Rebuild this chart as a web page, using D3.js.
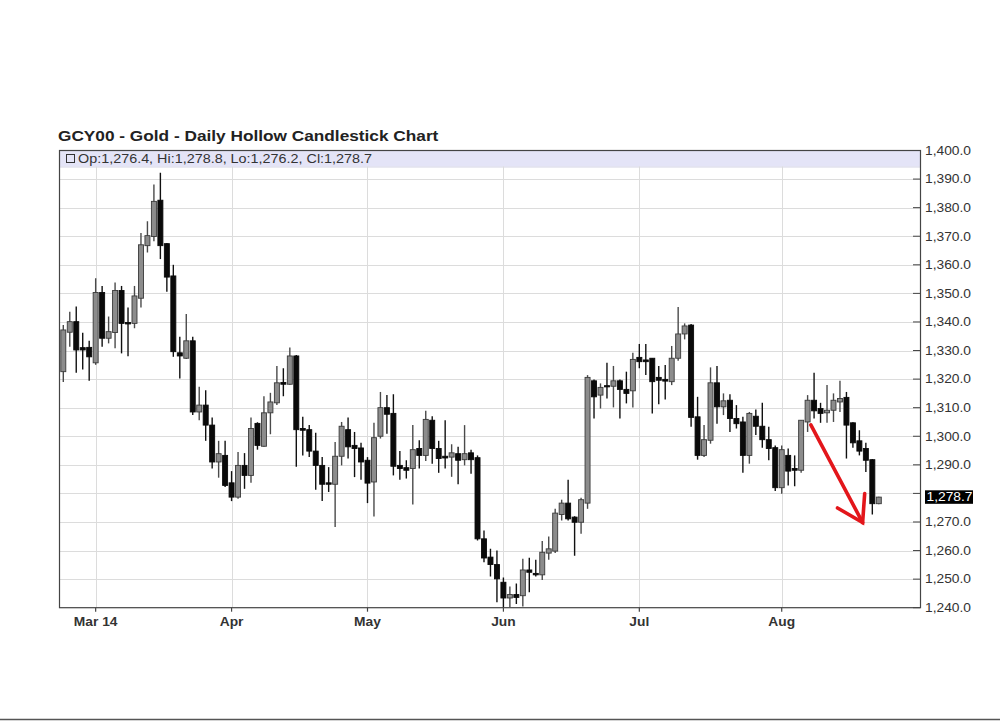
<!DOCTYPE html>
<html>
<head>
<meta charset="utf-8">
<script src="https://cdn.jsdelivr.net/npm/d3@7"></script>
<style>
  html, body { margin: 0; padding: 0; background: #fff; }
  svg { display: block; }
  text { font-family: "Liberation Sans", Arial, sans-serif; }
</style>
</head>
<body>
<script>
// ---------------- DATA ----------------
const title = "GCY00 - Gold - Daily Hollow Candlestick Chart";
const holidays = ["2014-04-18", "2014-05-26", "2014-07-04"];
const firstDay = "2014-02-24", lastDay = "2014-08-22";

const open = [1322.6,1336.4,1340.1,1331.0,1331.1,1325.7,1350.3,1334.3,1336.3,1351.0,
  1339.8,1339.5,1348.3,1366.7,1369.9,1382.6,1367.4,1356.1,1329.2,1327.3,
  1333.4,1308.5,1310.9,1303.9,1291.0,1293.3,1283.7,1278.7,1289.8,1286.3,
  1304.5,1296.5,1308.2,1311.7,1318.8,1318.2,1328.1,1302.7,1302.3,1294.8,
  1289.8,1283.7,1283.2,1293.0,1302.3,1296.8,1295.9,1291.6,1284.0,1300.0,
  1310.0,1308.0,1289.8,1289.0,1288.7,1295.7,1293.3,1305.6,1295.7,1293.0,
  1292.7,1293.9,1291.8,1294.2,1292.5,1264.1,1257.7,1255.1,1248.9,1243.4,
  1244.6,1244.2,1253.2,1252.0,1251.5,1259.1,1259.8,1272.6,1276.6,1271.7,
  1269.9,1276.6,1319.4,1314.4,1317.7,1317.5,1319.4,1316.4,1315.9,1327.6,
  1326.7,1327.3,1320.6,1319.9,1319.1,1327.3,1335.8,1338.9,1306.8,1293.3,
  1298.6,1318.7,1310.3,1312.6,1306.2,1305.0,1293.3,1307.0,1303.5,1298.8,
  1296.0,1282.0,1293.3,1288.7,1288.1,1305.0,1312.6,1309.7,1308.2,1309.1,
  1312.0,1313.6,1304.7,1298.4,1295.7,1291.8,1276.4];
const high = [1338.9,1343.6,1345.4,1336.2,1333.4,1355.3,1352.6,1341.9,1353.8,1352.6,
  1345.1,1352.6,1371.1,1375.2,1388.1,1392.2,1367.6,1360.0,1334.8,1342.8,
  1334.8,1317.3,1316.1,1306.6,1298.4,1298.4,1287.8,1294.5,1294.1,1306.6,
  1304.9,1314.0,1315.2,1324.6,1323.8,1331.1,1328.4,1306.8,1303.9,1301.2,
  1292.7,1289.2,1298.0,1305.0,1306.6,1301.5,1297.7,1292.7,1304.7,1315.5,
  1314.4,1314.7,1294.8,1291.6,1303.9,1298.6,1308.9,1307.0,1298.4,1305.6,
  1297.2,1296.3,1303.9,1295.3,1293.3,1267.0,1260.6,1260.0,1250.6,1247.4,
  1248.5,1257.1,1257.5,1256.8,1263.3,1264.9,1274.6,1277.8,1284.8,1272.0,
  1278.5,1321.4,1319.9,1318.5,1325.7,1324.6,1319.9,1322.6,1329.2,1332.3,
  1332.3,1327.3,1324.6,1324.9,1331.6,1345.2,1339.5,1339.3,1313.8,1303.9,
  1324.1,1324.6,1315.0,1314.7,1310.9,1306.8,1308.5,1309.4,1311.7,1303.3,
  1296.8,1296.8,1295.7,1293.3,1305.6,1314.4,1322.2,1311.7,1317.9,1315.0,
  1319.4,1315.5,1304.9,1302.1,1297.7,1292.0,1278.8];
const low = [1319.0,1331.3,1322.2,1323.4,1319.4,1325.0,1331.3,1332.5,1330.8,1329.0,
  1328.0,1337.8,1345.1,1364.3,1368.2,1362.0,1350.6,1327.8,1320.2,1327.0,
  1307.4,1305.6,1298.4,1288.7,1285.5,1282.2,1277.3,1278.1,1281.6,1283.7,
  1295.3,1296.3,1300.7,1310.9,1314.0,1318.0,1289.3,1293.3,1292.7,1281.3,
  1277.3,1280.5,1268.2,1289.8,1292.2,1285.7,1284.8,1276.6,1271.9,1299.2,
  1300.9,1286.3,1284.8,1285.2,1276.1,1288.7,1291.3,1290.4,1287.2,1288.7,
  1285.8,1283.2,1289.8,1286.9,1263.5,1255.9,1250.9,1241.9,1239.6,1240.1,
  1241.3,1240.4,1245.4,1250.9,1249.7,1256.8,1259.1,1270.5,1270.5,1258.2,
  1265.9,1274.6,1306.2,1309.7,1313.2,1310.1,1306.2,1311.5,1310.1,1323.8,
  1321.4,1308.0,1311.2,1312.9,1317.9,1326.4,1333.9,1303.3,1291.8,1292.7,
  1297.4,1304.4,1307.4,1301.5,1302.7,1287.2,1290.4,1300.4,1296.0,1291.6,
  1280.8,1279.9,1282.8,1282.5,1287.2,1301.5,1306.2,1304.7,1304.7,1305.0,
  1308.5,1292.2,1296.0,1293.3,1287.5,1272.6,1276.2];
const close = [1337.2,1340.1,1330.2,1330.2,1327.8,1350.3,1334.3,1336.6,1351.0,1339.5,
  1339.3,1349.1,1367.0,1370.2,1382.2,1366.7,1355.7,1329.6,1328.1,1333.4,
  1308.5,1310.9,1303.9,1291.0,1293.9,1282.8,1278.7,1289.8,1286.3,1302.7,
  1296.8,1308.2,1312.0,1318.7,1318.2,1328.1,1302.3,1302.1,1294.8,1289.8,
  1283.2,1283.2,1293.0,1303.5,1296.3,1295.7,1291.0,1283.6,1299.5,1310.0,
  1307.7,1289.5,1288.7,1288.1,1295.3,1293.3,1305.9,1295.7,1292.2,1292.4,
  1294.2,1291.6,1293.9,1291.8,1264.1,1257.4,1255.1,1250.1,1243.4,1244.6,
  1243.6,1253.2,1252.4,1251.5,1259.4,1260.6,1273.1,1276.6,1271.1,1269.9,
  1277.8,1320.6,1313.8,1317.1,1317.3,1319.4,1316.4,1315.0,1326.9,1326.1,
  1326.1,1319.1,1319.6,1319.3,1327.3,1335.8,1338.6,1306.6,1293.3,1298.8,
  1318.7,1310.3,1312.4,1306.2,1304.4,1293.3,1308.0,1303.5,1298.8,1295.7,
  1282.0,1295.3,1287.8,1288.1,1305.6,1312.6,1308.9,1308.0,1309.1,1312.6,
  1313.2,1303.9,1297.7,1294.8,1291.6,1276.4,1278.7];

const monthTickDates  = ["2014-03-03","2014-04-01","2014-05-01","2014-06-02","2014-07-01","2014-08-01"];
const monthTickLabels = ["Mar 14","Apr","May","Jun","Jul","Aug"];
const priceTicks = d3.range(1240, 1400.1, 10);
const priceDomain = [1240, 1400];
// annotation arrow (date, price) pairs
const arrowFrom = ["2014-08-07", 1304.0];
const arrowTo   = ["2014-08-19", 1269.8];

// ---------------- SETUP ----------------
const fmtDay = d3.utcFormat("%Y-%m-%d");
const holSet = new Set(holidays);
const dates = d3.utcDays(new Date(firstDay + "T00:00:00Z"), d3.utcDay.offset(new Date(lastDay + "T00:00:00Z"), 1))
  .filter(d => d.getUTCDay() !== 0 && d.getUTCDay() !== 6)
  .map(fmtDay)
  .filter(s => !holSet.has(s));
const candles = dates.map((d, i) => ({date: d, i, o: open[i], h: high[i], l: low[i], c: close[i]}));

const W = 1000, H = 722;
const plot = {left: 59, right: 920, top: 150.5, bottom: 607.7};
const SX = 1.15; // horizontal text stretch of the original image

const xi = d3.scaleLinear().domain([0, dates.length - 1]).range([63.3, 878.8]);
const x = d => xi(dates.indexOf(d));
const y = d3.scaleLinear().domain(priceDomain).range([plot.bottom, plot.top]);

const svg = d3.select("body").append("svg").attr("width", W).attr("height", H);
svg.append("rect").attr("width", W).attr("height", H).attr("fill", "#fff");

function stext(parent, px, py, str, attrs) {
  const t = parent.append("text")
    .attr("transform", `translate(${px},${py}) scale(${SX},1)`)
    .text(str);
  Object.entries(attrs || {}).forEach(([k, v]) => t.attr(k, v));
  return t;
}

// title
stext(svg, 58, 141, title, {"font-size": 15, "font-weight": "bold", fill: "#222"});

// header band
svg.append("rect").attr("x", plot.left).attr("y", plot.top)
  .attr("width", plot.right - plot.left).attr("height", 16)
  .attr("fill", "#e4e4f7");
svg.append("line").attr("x1", plot.left).attr("x2", plot.right)
  .attr("y1", plot.top + 16.5).attr("y2", plot.top + 16.5)
  .attr("stroke", "#d4d4e4").attr("stroke-width", 1);

// gridlines
const grid = svg.append("g");
grid.selectAll("line.h").data(priceTicks.filter(v => v > priceDomain[0] && v < priceDomain[1]))
  .join("line")
  .attr("x1", plot.left).attr("x2", plot.right)
  .attr("y1", d => Math.round(y(d)) + 0.5).attr("y2", d => Math.round(y(d)) + 0.5)
  .attr("stroke", "#dcdcdc").attr("stroke-width", 1);
grid.selectAll("line.v").data(monthTickDates)
  .join("line")
  .attr("x1", d => Math.round(x(d)) + 0.5).attr("x2", d => Math.round(x(d)) + 0.5)
  .attr("y1", plot.top + 16).attr("y2", plot.bottom)
  .attr("stroke", "#dcdcdc").attr("stroke-width", 1);

// header text
svg.append("rect").attr("x", 66.5).attr("y", 154.5).attr("width", 8).attr("height", 8)
  .attr("fill", "none").attr("stroke", "#333").attr("stroke-width", 1);
const last = candles[candles.length - 1];
const f1 = d3.format(",.1f");
stext(svg, 78, 163.3, `Op:${f1(last.o)}, Hi:${f1(last.h)}, Lo:${f1(last.l)}, Cl:${f1(last.c)}`,
  {"font-size": 12.5, fill: "#333"});

// candles
svg.append("clipPath").attr("id", "clip").append("rect")
  .attr("x", plot.left).attr("y", plot.top).attr("width", plot.right - plot.left).attr("height", plot.bottom - plot.top);
const cg = svg.append("g").attr("clip-path", "url(#clip)");
const bw = 5;
const cs = cg.selectAll("g.c").data(candles).join("g");
cs.append("line")
  .attr("x1", d => xi(d.i)).attr("x2", d => xi(d.i))
  .attr("y1", d => y(d.h)).attr("y2", d => y(d.l))
  .attr("stroke", d => d.c >= d.o ? "#4a4a4a" : "#111")
  .attr("stroke-width", 1.4);
cs.append("rect")
  .attr("x", d => xi(d.i) - bw / 2)
  .attr("y", d => y(Math.max(d.o, d.c)))
  .attr("width", bw)
  .attr("height", d => Math.max(1.2, Math.abs(y(d.o) - y(d.c))))
  .attr("fill", d => d.c >= d.o ? "#8c8c8c" : "#0a0a0a")
  .attr("stroke", d => d.c >= d.o ? "#3a3a3a" : "#0a0a0a")
  .attr("stroke-width", 0.9);

// frame
svg.append("rect").attr("x", plot.left + 0.5).attr("y", plot.top)
  .attr("width", plot.right - plot.left).attr("height", plot.bottom - plot.top)
  .attr("fill", "none").attr("stroke", "#444").attr("stroke-width", 1.2);

// right axis ticks & labels
const ra = svg.append("g");
ra.selectAll("line").data(priceTicks).join("line")
  .attr("x1", plot.right - 7).attr("x2", plot.right)
  .attr("y1", d => y(d)).attr("y2", d => y(d))
  .attr("stroke", "#444").attr("stroke-width", 1);
priceTicks.forEach(v => {
  if (Math.abs(v - last.c) < 5) return; // hidden under the last-price marker
  stext(ra, 925, y(v) + 4.3, f1(v), {"font-size": 12, fill: "#333"});
});
// last price marker
const lp = svg.append("g");
lp.append("rect").attr("x", 925).attr("y", y(last.c) - 6.8).attr("width", 48).attr("height", 13.5).attr("fill", "#000");
stext(lp, 926.5, y(last.c) + 4.3, f1(last.c), {"font-size": 12, fill: "#fff"});

// bottom axis
const ba = svg.append("g");
monthTickDates.forEach((d, k) => {
  ba.append("line").attr("x1", x(d)).attr("x2", x(d))
    .attr("y1", plot.bottom).attr("y2", plot.bottom + 4)
    .attr("stroke", "#444").attr("stroke-width", 1.2);
  stext(ba, x(d), 625.5, monthTickLabels[k], {"font-size": 12, "font-weight": "bold", fill: "#333", "text-anchor": "middle"});
});

// red arrow annotation
const ax0 = xi(dates.indexOf(arrowFrom[0]) + 0.5), ay0 = y(arrowFrom[1]);
const ax1 = xi(dates.indexOf(arrowTo[0]) + 0.5), ay1 = y(arrowTo[1]);
const ang = Math.atan2(ay1 - ay0, ax1 - ax0);
const hl = 29, spread = 32 * Math.PI / 180;
const red = "#e3161b";
const ag = svg.append("g").attr("stroke", red).attr("stroke-width", 3.6).attr("stroke-linecap", "round").attr("fill", "none");
ag.append("line").attr("x1", ax0).attr("y1", ay0).attr("x2", ax1).attr("y2", ay1);
ag.append("path").attr("stroke-linejoin", "miter")
  .attr("d", `M${ax1 + hl * Math.cos(ang + Math.PI - spread)},${ay1 + hl * Math.sin(ang + Math.PI - spread)}L${ax1},${ay1}L${ax1 + hl * Math.cos(ang + Math.PI + spread)},${ay1 + hl * Math.sin(ang + Math.PI + spread)}`);

// bottom edge line of the screenshot
svg.append("line").attr("x1", 0).attr("x2", W).attr("y1", 719.5).attr("y2", 719.5)
  .attr("stroke", "#555").attr("stroke-width", 1.5);
</script>
</body>
</html>
